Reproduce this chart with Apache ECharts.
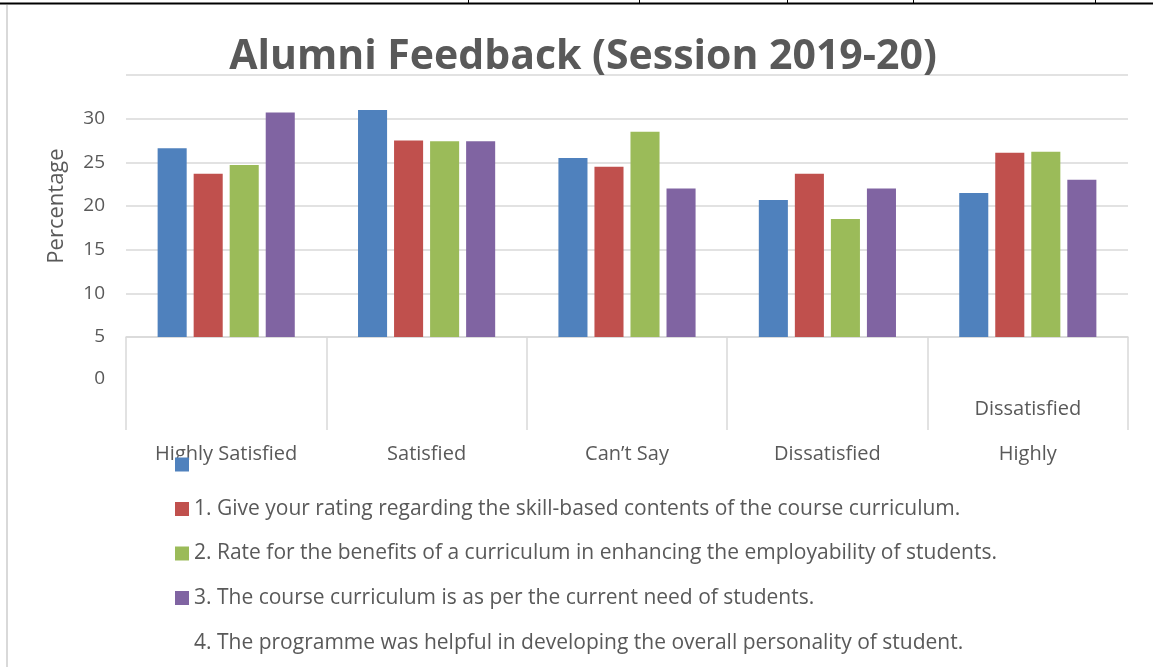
<!DOCTYPE html>
<html>
<head>
<meta charset="utf-8">
<style>
  html, body { margin: 0; padding: 0; background: #fff; }
  #chart { width: 1153px; height: 667px; }
</style>
<script src="https://cdn.jsdelivr.net/npm/echarts@6/dist/echarts.min.js"></script>
</head>
<body>
<div id="chart"></div>
<script>
const categories = ['Highly Satisfied', 'Satisfied', 'Can’t Say', 'Dissatisfied', 'Highly Dissatisfied']
const questions = [
  '1. Give your rating regarding the skill-based contents of the course curriculum.',
  '2. Rate for the benefits of a curriculum in enhancing the employability of students.',
  '3. The course curriculum is as per the current need of students.',
  '4. The programme was helpful in developing the overall personality of student.'
]
const q1 = [26.6, 31.0, 25.5, 20.7, 21.5]
const q2 = [23.7, 27.5, 24.5, 23.7, 26.1]
const q3 = [24.7, 27.4, 28.5, 18.5, 26.2]
const q4 = [30.7, 27.4, 22.0, 22.0, 23.0]
const seriesValues = [q1, q2, q3, q4]
const colors = ['#4f81bd', '#c0504d', '#9bbb59', '#8064a2']

const font = '"Open Sans", "Noto Sans", sans-serif'
const grey = '#595959'
const lineGrey = '#d9d9d9'

const chart = echarts.init(document.getElementById('chart'))

const series = seriesValues.map((vals, i) => ({
  name: questions[i],
  type: 'bar',
  data: vals,
  xAxisIndex: 0,
  yAxisIndex: 0,
  barWidth: '14.5%',
  barGap: '24%',
  clip: true,
  itemStyle: { color: colors[i] }
}))

const legendText = { fontFamily: font, fontSize: 21, color: grey }

chart.setOption({
  animation: false,
  color: colors,
  title: {
    text: 'Alumni Feedback (Session 2019-20)',
    left: 583,
    top: 37,
    padding: 0,
    textAlign: 'center',
    textStyle: { fontFamily: font, fontSize: 41, fontWeight: 'bold', color: grey }
  },
  legend: [
    {
      orient: 'vertical',
      left: 175,
      top: 454,
      padding: 0,
      itemWidth: 14,
      itemHeight: 14,
      itemGap: 23.5,
      icon: 'rect',
      data: questions,
      // legend text sits one row below its swatch, as in the source
      formatter: name => {
        const i = questions.indexOf(name)
        return i > 0 ? questions[i - 1] : ' '
      },
      textStyle: legendText
    },
    {
      orient: 'vertical',
      left: 175,
      top: 633,
      padding: 0,
      itemWidth: 14,
      itemHeight: 14,
      icon: 'rect',
      data: [questions[3]],
      itemStyle: { color: 'transparent', opacity: 0 },
      textStyle: legendText
    }
  ],
  grid: [
    { left: 126, right: 25, top: 75, height: 262 },
    { left: 126, right: 25, top: 337, height: 93 }
  ],
  xAxis: [
    {
      type: 'category',
      gridIndex: 0,
      data: categories,
      axisLine: { lineStyle: { color: lineGrey, width: 1.5 } },
      axisTick: { show: false },
      axisLabel: { show: false }
    },
    {
      type: 'category',
      gridIndex: 1,
      data: categories,
      axisLine: { show: false },
      axisTick: { show: false },
      splitLine: { show: true, lineStyle: { color: lineGrey, width: 1.5 } },
      axisLabel: {
        margin: 14,
        fontFamily: font,
        fontSize: 20,
        color: grey,
        formatter: v => v === 'Highly Dissatisfied' ? 'Highly' : v
      }
    },
    {
      type: 'category',
      gridIndex: 1,
      position: 'bottom',
      data: categories,
      axisLine: { show: false },
      axisTick: { show: false },
      axisLabel: {
        inside: true,
        margin: 11,
        fontFamily: font,
        fontSize: 20,
        color: grey,
        formatter: v => v === 'Highly Dissatisfied' ? 'Dissatisfied' : ''
      }
    }
  ],
  yAxis: [
    {
      type: 'value',
      gridIndex: 0,
      min: 5,
      max: 35,
      interval: 5,
      name: 'Percentage',
      nameLocation: 'middle',
      nameRotate: 90,
      nameGap: 58,
      nameTextStyle: { fontFamily: font, fontSize: 22, color: grey },
      axisLine: { show: false },
      axisTick: { show: false },
      axisLabel: { margin: 21, fontFamily: font, fontSize: 19, color: grey, showMaxLabel: false },
      splitLine: { lineStyle: { color: lineGrey, width: 1.5 } }
    },
    {
      type: 'value',
      gridIndex: 1,
      min: -5,
      max: 4,
      interval: 5,
      axisLine: { show: false },
      axisTick: { show: false },
      splitLine: { show: false },
      axisLabel: {
        margin: 21,
        fontFamily: font,
        fontSize: 19,
        color: grey,
        formatter: v => v === 0 ? '0' : ''
      }
    }
  ],
  graphic: [
    { type: 'line', shape: { x1: 0, y1: 3.5, x2: 1153, y2: 3.5 }, style: { stroke: '#000', lineWidth: 2 } },
    { type: 'line', shape: { x1: 468.5, y1: 0, x2: 468.5, y2: 3 }, style: { stroke: '#000', lineWidth: 1 } },
    { type: 'line', shape: { x1: 639.5, y1: 0, x2: 639.5, y2: 3 }, style: { stroke: '#000', lineWidth: 1 } },
    { type: 'line', shape: { x1: 787.5, y1: 0, x2: 787.5, y2: 3 }, style: { stroke: '#000', lineWidth: 1 } },
    { type: 'line', shape: { x1: 913.5, y1: 0, x2: 913.5, y2: 3 }, style: { stroke: '#000', lineWidth: 1 } },
    { type: 'line', shape: { x1: 1095.5, y1: 0, x2: 1095.5, y2: 3 }, style: { stroke: '#000', lineWidth: 1 } },
    { type: 'line', shape: { x1: 7, y1: 5, x2: 7, y2: 667 }, style: { stroke: lineGrey, lineWidth: 2 } }
  ],
  series: series
})
</script>
</body>
</html>
